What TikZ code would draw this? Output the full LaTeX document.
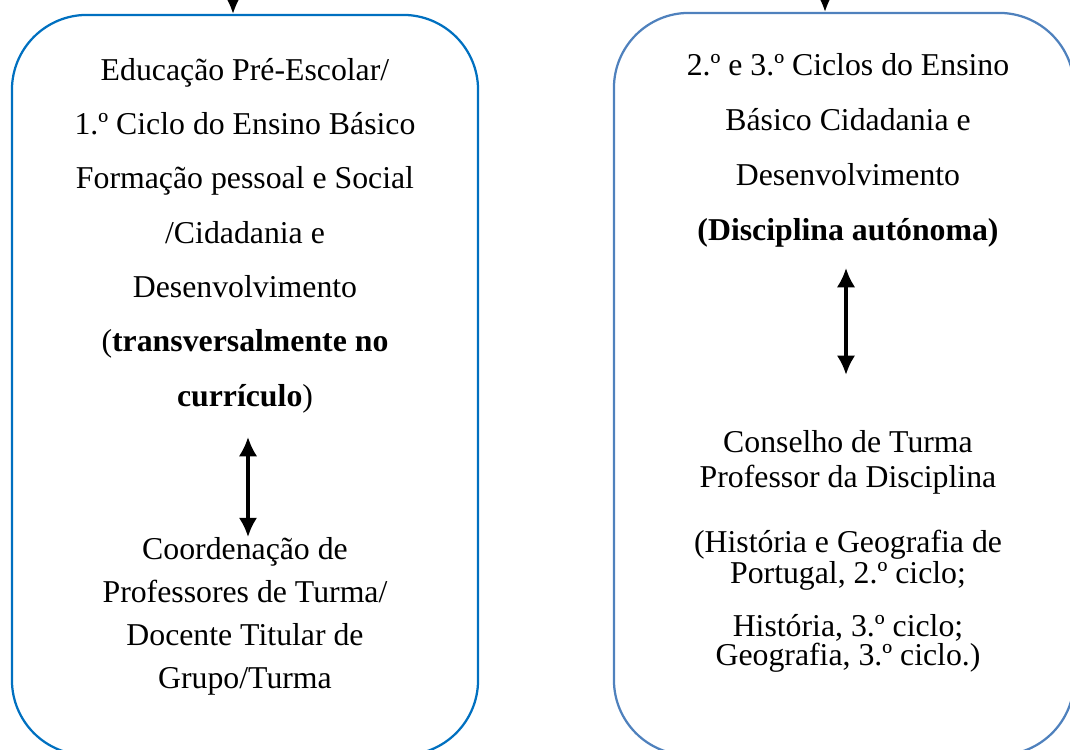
\documentclass[tikz,border=0pt]{standalone}
\usepackage{fontspec}
\setmainfont{Liberation Serif}
\usetikzlibrary{arrows.meta}
\definecolor{leftblue}{RGB}{0,112,192}
\definecolor{rightblue}{RGB}{79,129,189}
\tikzset{
  >={Latex[length=0.48cm,width=0.46cm]},
}
\tikzstyle{panel}=[draw,line width=1.6pt,rounded corners=1.875cm,inner sep=0pt]
\tikzstyle{link}=[line width=2.2pt]
\tikzstyle{txt}=[align=center,inner sep=0pt,anchor=base]

\begin{document}
\begin{tikzpicture}[x=0.025cm,y=-0.025cm]
    \useasboundingbox (0,0) rectangle (1070,749);
    \clip (0,0) rectangle (1070,749);
    \node[panel,leftblue,minimum width=11.65cm,minimum height=18.5cm] (lbox) at (245,385) {};
    \node[panel,rightblue,minimum width=11.5cm,minimum height=18.55cm] (rbox) at (844,384) {};
    \node[txt,font=\fontsize{22.6pt}{38.6pt}\selectfont] (lup) at (245,406)
      {Educação Pré-Escolar/\\1.º Ciclo do Ensino Básico\\Formação pessoal e Social\\/Cidadania e\\Desenvolvimento\\(\textbf{transversalmente no}\\\textbf{currículo})};
    \node[txt,font=\fontsize{22.6pt}{30.5pt}\selectfont] (llow) at (245,688)
      {Coordenação de\\Professores de Turma/\\Docente Titular de\\Grupo/Turma};
    \node[txt,font=\fontsize{22.6pt}{39pt}\selectfont] (rup) at (848,240)
      {2.º e 3.º Ciclos do Ensino\\Básico Cidadania e\\Desenvolvimento\\\textbf{(Disciplina autónoma)}};
    \node[txt,font=\fontsize{22.6pt}{24.8pt}\selectfont] (rcons) at (848,487)
      {Conselho de Turma\\Professor da Disciplina};
    \node[txt,font=\fontsize{22.6pt}{22pt}\selectfont] (rhist) at (848,583)
      {(História e Geografia de\\Portugal, 2.º ciclo;};
    \node[txt,font=\fontsize{22.6pt}{20.6pt}\selectfont] (rgeo) at (848,665)
      {História, 3.º ciclo;\\Geografia, 3.º ciclo.)};
    \coordinate (lin) at (233,-40);
    \coordinate (rin) at (825,-40);
    \draw[link,->] (lin) -- (lin |- lbox.north);
    \draw[link,->] (rin) -- (rin |- rbox.north);
    \draw[link,<->,shorten <=0.6cm] ([xshift=0.075cm]lup.south) -- ([xshift=0.075cm]llow.north);
    \draw[link,<->,shorten <=0.525cm,shorten >=1.375cm] ([xshift=-0.05cm]rup.south) -- ([xshift=-0.05cm]rcons.north);
\end{tikzpicture}
\end{document}
